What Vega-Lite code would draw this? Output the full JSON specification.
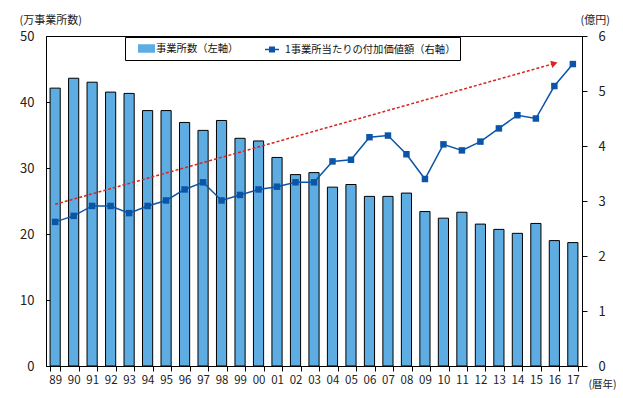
{
  "$schema": "https://vega.github.io/schema/vega-lite/v6.json",
  "autosize": "none",
  "width": 536,
  "height": 330,
  "padding": {"left": 46, "top": 36, "right": 41, "bottom": 32},
  "background": "white",
  "config": {
    "view": {"stroke": "black", "strokeWidth": 1},
    "font": "Noto Sans CJK JP",
    "axis": {"grid": false, "domainColor": "black", "tickColor": "black", "labelColor": "#222", "titleColor": "#222", "labelFont": "Noto Sans CJK JP", "titleFont": "Noto Sans CJK JP", "titleFontWeight": "normal"}
  },
  "datasets": {
    "main": [
      {"year": "89", "count": 42.1, "value": 2.62},
      {"year": "90", "count": 43.6, "value": 2.73},
      {"year": "91", "count": 43.0, "value": 2.91},
      {"year": "92", "count": 41.5, "value": 2.91},
      {"year": "93", "count": 41.3, "value": 2.78},
      {"year": "94", "count": 38.7, "value": 2.91},
      {"year": "95", "count": 38.7, "value": 3.01},
      {"year": "96", "count": 36.9, "value": 3.21},
      {"year": "97", "count": 35.7, "value": 3.34},
      {"year": "98", "count": 37.2, "value": 3.01},
      {"year": "99", "count": 34.5, "value": 3.11},
      {"year": "00", "count": 34.1, "value": 3.21},
      {"year": "01", "count": 31.6, "value": 3.26},
      {"year": "02", "count": 29.0, "value": 3.34},
      {"year": "03", "count": 29.3, "value": 3.34},
      {"year": "04", "count": 27.1, "value": 3.72},
      {"year": "05", "count": 27.5, "value": 3.75},
      {"year": "06", "count": 25.7, "value": 4.16},
      {"year": "07", "count": 25.7, "value": 4.19},
      {"year": "08", "count": 26.2, "value": 3.85},
      {"year": "09", "count": 23.4, "value": 3.40},
      {"year": "10", "count": 22.4, "value": 4.03},
      {"year": "11", "count": 23.3, "value": 3.92},
      {"year": "12", "count": 21.5, "value": 4.08},
      {"year": "13", "count": 20.7, "value": 4.32},
      {"year": "14", "count": 20.1, "value": 4.56},
      {"year": "15", "count": 21.6, "value": 4.50},
      {"year": "16", "count": 19.0, "value": 5.09},
      {"year": "17", "count": 18.7, "value": 5.49}
    ],
    "arrow": [
      {"year": "89", "v": 2.94},
      {"year": "16", "v": 5.5}
    ]
  },
  "encoding": {
    "x": {
      "field": "year", "type": "nominal",
      "scale": {"domain": ["89","90","91","92","93","94","95","96","97","98","99","00","01","02","03","04","05","06","07","08","09","10","11","12","13","14","15","16","17"], "paddingInner": 0.45, "paddingOuter": 0.22},
      "axis": {"title": "(暦年)", "titleAngle": 0, "titleAlign": "left", "titleBaseline": "middle", "titleX": 542, "titleY": 18, "titleFontSize": 10.5, "labelAngle": 0, "labelFontSize": 11.5, "labelPadding": 3, "tickBand": "extent", "tickSize": 5, "labelColor": "#222"}
    }
  },
  "layer": [
    {
      "data": {"name": "main"},
      "mark": {"type": "bar", "stroke": "black", "strokeWidth": 1},
      "encoding": {
        "y": {"field": "count", "type": "quantitative", "scale": {"domain": [0, 50], "nice": false},
          "axis": {"orient": "left", "values": [0,10,20,30,40,50], "tickSize": -5, "labelPadding": 17, "labelFontSize": 13, "title": "(万事業所数)", "titleAngle": 0, "titleAlign": "left", "titleBaseline": "middle", "titleX": -27, "titleY": -16, "titleFontSize": 11}},
        "fill": {
          "datum": "事業所数（左軸）",
          "scale": {"domain": ["事業所数（左軸）"], "range": ["#5DADE2"]},
          "legend": {
            "orient": "none", "legendX": 79, "legendY": 1, "direction": "horizontal", "title": null,
            "padding": 3,
            "labelFontSize": 10.3, "labelFont": "Noto Sans CJK JP", "labelColor": "#111", "labelLimit": 400,
            "symbolSize": 289, "symbolOffset": 10, "labelOffset": 1, "symbolOpacity": 1,
            "symbolType": "M-1,-0.5H1V0.5H-1Z", "symbolStrokeWidth": 0
          }
        }
      }
    },
    {
      "layer": [
        {
          "data": {"name": "arrow"},
          "mark": {"type": "line", "color": "#D7261E", "strokeDash": [3, 2], "strokeWidth": 1.5},
          "encoding": {
            "y": {"field": "v", "type": "quantitative", "scale": {"domain": [0, 6], "nice": false},
              "axis": {"orient": "right", "values": [0,1,2,3,4,5,6], "format": "d", "tickSize": 5, "labelPadding": 11, "labelFontSize": 13, "title": "(億円)", "titleAngle": 0, "titleAlign": "left", "titleBaseline": "middle", "titleX": -2, "titleY": -16, "titleFontSize": 11}}
          }
        },
        {
          "data": {"name": "arrow"},
          "transform": [{"filter": "datum.year == '16'"}],
          "mark": {"type": "point", "shape": "triangle-right", "filled": true, "color": "#D7261E", "size": 55, "angle": 344, "opacity": 1},
          "encoding": {
            "y": {"field": "v", "type": "quantitative"}
          }
        },
        {
          "data": {"name": "main"},
          "mark": {"type": "line", "strokeWidth": 1.5, "color": "#0B55A8"},
          "encoding": {
            "y": {"field": "value", "type": "quantitative"}
          }
        },
        {
          "data": {"name": "main"},
          "mark": {"type": "point", "shape": "square", "size": 42, "filled": true, "opacity": 1},
          "encoding": {
            "y": {"field": "value", "type": "quantitative"},
            "color": {
              "datum": "1事業所当たりの付加価値額（右軸）",
              "scale": {"domain": ["1事業所当たりの付加価値額（右軸）"], "range": ["#0B55A8"]},
              "legend": {
                "orient": "none", "legendX": 79, "legendY": 1, "direction": "horizontal", "title": null,
                "strokeColor": "black", "padding": 4.5,
                "labelFontSize": 10.3, "labelFont": "Noto Sans CJK JP", "labelColor": "#111", "labelLimit": 400,
                "symbolSize": 196, "symbolOffset": 134.5, "labelOffset": 5, "symbolOpacity": 1,
                "symbolType": "M-1,-0.11H1V0.11H-1Z M-0.43,-0.43H0.43V0.43H-0.43Z"
              }
            }
          }
        }
      ]
    }
  ],
  "resolve": {"scale": {"y": "independent"}}
}
